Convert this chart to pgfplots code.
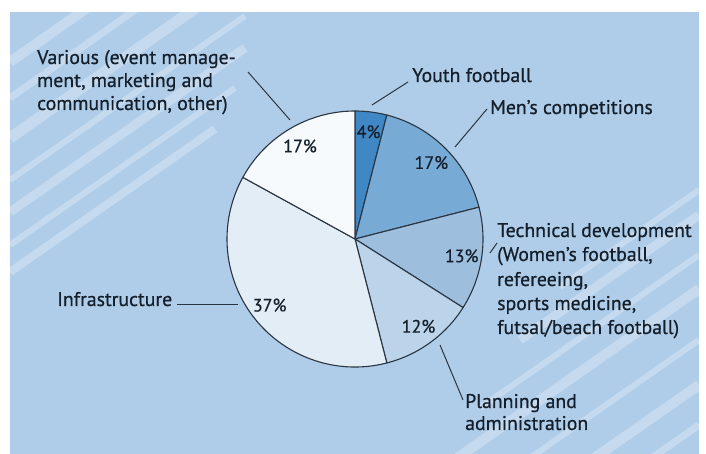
\documentclass[border=0pt]{standalone}
\usepackage{pgfplots}
\pgfplotsset{compat=1.18}
\usepackage{pgfplotstable}
\usepackage{fontspec}
\setmainfont{PT Sans}[FakeBold=0.6]
\definecolor{bg}{HTML}{AFCDE8}
\definecolor{c1}{HTML}{3F88C5}
\definecolor{c2}{HTML}{78AAD6}
\definecolor{c3}{HTML}{9DBEDD}
\definecolor{c4}{HTML}{BCD4EA}
\definecolor{c5}{HTML}{E3EDF6}
\definecolor{c6}{HTML}{F7FAFD}
\definecolor{edge}{HTML}{2A3542}
\definecolor{txt}{HTML}{141F2B}

% share of the budget, clockwise from 12 o'clock
\pgfplotstableread{
pct col
4 c1
17 c2
13 c3
12 c4
37 c5
17 c6
}\piedata

\begin{document}
\begin{tikzpicture}
\begin{axis}[name=ax, x=1pt, y=1pt, xmin=0, xmax=706, ymin=0, ymax=454,
  scale only axis, hide axis, clip=false]
\pgfplotsextra{%
  \fill[white] (axis cs:0,0) rectangle (axis cs:706,454);
  \fill[bg] (axis cs:10,0) rectangle (axis cs:699,442);
  \begin{scope}
    \clip (axis cs:10,0) rectangle (axis cs:699,442);
    % top-left stripes (x0,y0,x1,y1,width)
    \foreach \xa/\ya/\xb/\yb/\w in {
      10/392/110/462/10, 10/356/165/465/7, 10/316/230/470/11,
      10/274/245/438/6, 10/242/245/406/9, 10/209/235/366/6, 10/182/215/325/8}
      {\draw[white, opacity=0.28, line width=\w pt] (axis cs:\xa,\ya) -- (axis cs:\xb,\yb);}
    % bottom-right stripes
    \foreach \xa/\ya/\xb/\yb/\w in {
      560/167/699/264/6, 520/114/699/239/9, 480/46/699/199/6,
      440/-16/699/165/10, 500/-25/699/114/6, 560/-28/699/69/10, 620/-26/699/29/7}
      {\draw[white, opacity=0.28, line width=\w pt] (axis cs:\xa,\ya) -- (axis cs:\xb,\yb);}
  \end{scope}
  \gdef\acc{90}%
  \foreach \i in {0,...,5}{%
    \pgfplotstablegetelem{\i}{pct}\of\piedata \let\slicepct\pgfplotsretval
    \pgfplotstablegetelem{\i}{col}\of\piedata \let\slicecol\pgfplotsretval
    \pgfmathsetmacro\da{-3.6*\slicepct}%
    \pgfmathsetmacro\mida{\acc+\da/2}%
    \filldraw[fill=\slicecol, draw=edge, line width=1.1pt, line join=round]
      (axis cs:355,215) -- ++(\acc:128pt)
      arc[start angle=\acc, delta angle=\da, radius=128pt] -- cycle;
    \node[text=txt, font=\fontsize{18}{22}\selectfont, inner sep=0pt]
      at ([shift={(\mida:108pt)}]axis cs:355,215) {\slicepct\%};
    \pgfmathsetmacro\na{\acc+\da}\global\let\acc\na
  }
  % callout lines
  \draw[edge, line width=1pt] (axis cs:248,382) -- (axis cs:290,334);
  \draw[edge, line width=1pt] (axis cs:372,349) -- (axis cs:408,372);
  \draw[edge, line width=1pt] (axis cs:455,307) -- (axis cs:487,345);
  \draw[edge, line width=1pt] (axis cs:490,201) -- (axis cs:497,211);
  \draw[edge, line width=1pt] (axis cs:440,109) -- (axis cs:463,54);
  \draw[edge, line width=1pt] (axis cs:177,149) -- (axis cs:238,149);
  % labels
  \begin{scope}[every node/.style={anchor=base west, inner sep=0pt, text=txt,
      font=\fontsize{19.8}{24}\selectfont}]
    \node at (axis cs:37,390) {Various (event manage-};
    \node at (axis cs:37,367) {ment, marketing and};
    \node at (axis cs:37,344) {communication, other)};
    \node at (axis cs:412,372) {Youth football};
    \node at (axis cs:490,340) {Men’s competitions};
    \node at (axis cs:497,217) {Technical development};
    \node at (axis cs:497,193) {(Women’s football,};
    \node at (axis cs:497,168) {refereeing,};
    \node at (axis cs:497,144) {sports medicine,};
    \node at (axis cs:497,120) {futsal/beach football)};
    \node at (axis cs:57,148) {Infrastructure};
    \node at (axis cs:465,46) {Planning and};
    \node at (axis cs:465,24) {administration};
  \end{scope}
}
\end{axis}
\pgfresetboundingbox
\path[use as bounding box] (ax.south west) rectangle (ax.north east);
\end{tikzpicture}
\end{document}
